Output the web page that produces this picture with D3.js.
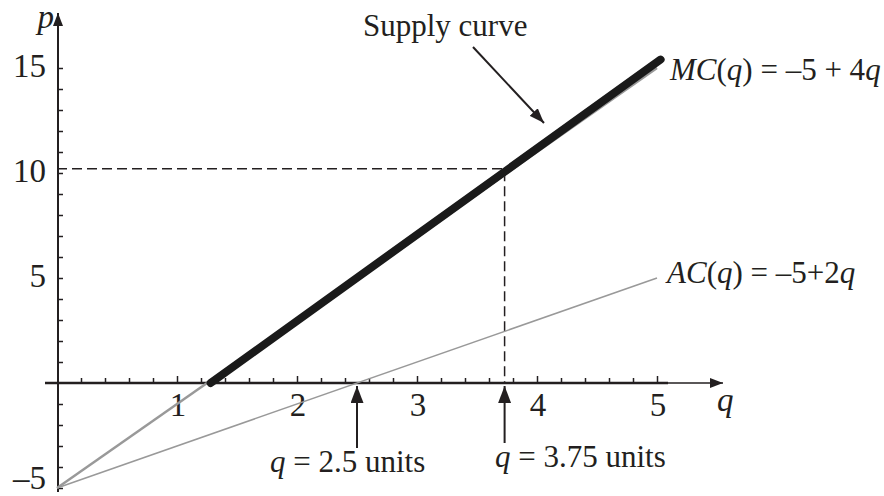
<!DOCTYPE html>
<html lang="en">
<head>
<meta charset="UTF-8">
<title>Supply curve</title>
<script src="https://d3js.org/d3.v7.min.js"></script>
<style>
  body { margin: 0; background: #fff; }
  text { font-family: "Liberation Serif", "Times New Roman", serif; fill: #231f20; }
</style>
</head>
<body>
<div id="chart"></div>
<script>
// values
var qTicks = [1, 2, 3, 4, 5];
var pTicks = [-5, 5, 10, 15];
var mcQ = [0, 5], mcP = [-5, 15];          // MC(q) = -5 + 4q
var acQ = [0, 5], acP = [-5, 5];           // AC(q) = -5 + 2q
var supplyQ = [1.28, 5.03], supplyP = [0, 15.4];   // bold supply curve, drawn slightly above MC
var qStar = 3.73, pStar = 10.2;            // dashed guide lines
var markers = [
  {q: 2.5,  y0: 448, y1: 386, label: "2.5 units",  lx: 270, ly: 472},
  {q: 3.73, y0: 443, y1: 386, label: "3.75 units", lx: 495, ly: 467}
];

var width = 884, height = 496;
var ink = "#231f20";

var svg = d3.select("#chart").append("svg")
    .attr("width", width)
    .attr("height", height);

var x = d3.scaleLinear().domain([0, 5]).range([57, 657]);
var y = d3.scaleLinear().domain([-5, 15]).range([488, 68]);

var defs = svg.append("defs");
function head(id, w, h) {
  defs.append("marker")
      .attr("id", id)
      .attr("viewBox", "0 0 " + w + " " + h)
      .attr("refX", w).attr("refY", h / 2)
      .attr("markerWidth", w).attr("markerHeight", h)
      .attr("markerUnits", "userSpaceOnUse")
      .attr("orient", "auto")
    .append("path")
      .attr("d", "M0,0L" + w + "," + (h / 2) + "L0," + h + "Z")
      .attr("fill", ink);
}
head("ax", 13, 10);
head("ann", 17, 13);
head("sup", 15, 11);

// axes lines
svg.append("line")
    .attr("x1", x(0) + 1).attr("x2", x(0) + 1)
    .attr("y1", 492).attr("y2", 13)
    .attr("stroke", ink).attr("stroke-width", 2)
    .attr("marker-end", "url(#ax)");
svg.append("line")
    .attr("x1", 45).attr("x2", 668)
    .attr("y1", y(0)).attr("y2", y(0))
    .attr("stroke", ink).attr("stroke-width", 2.5);
svg.append("line")
    .attr("x1", 668).attr("x2", 723)
    .attr("y1", y(0)).attr("y2", y(0))
    .attr("stroke", ink).attr("stroke-width", 1.3)
    .attr("marker-end", "url(#ax)");

// x ticks (pointing up)
var gx = svg.append("g").attr("transform", "translate(0," + y(0) + ")");
gx.append("g").call(d3.axisTop(x)
    .tickValues(x.ticks(25).filter(function(d){ return d > 0 && qTicks.indexOf(d) < 0; }))
    .tickSize(5).tickFormat(""));
gx.append("g").call(d3.axisTop(x).tickValues(qTicks).tickSize(7).tickFormat(""));
gx.selectAll(".domain").remove();
gx.selectAll(".tick line").attr("stroke", ink).attr("stroke-width", 1.5);

// y ticks (pointing right)
var gy = svg.append("g").attr("transform", "translate(" + (x(0) + 1) + ",0)");
gy.call(d3.axisRight(y)
    .tickValues(y.ticks(20).filter(function(d){ return d !== 0; }))
    .tickSize(5).tickFormat(""));
gy.selectAll(".domain").remove();
gy.selectAll(".tick line").attr("stroke", ink).attr("stroke-width", 1.5);

// tick labels
svg.selectAll(".qlab")
    .data(qTicks)
    .enter().append("text")
    .attr("x", function(d){ return x(d) + 1; })
    .attr("y", 416)
    .attr("text-anchor", "middle")
    .attr("font-size", "33px")
    .text(function(d){ return d; });

svg.selectAll(".plab")
    .data(pTicks)
    .enter().append("text")
    .attr("x", 46)
    .attr("y", function(d){ return Math.min(y(d) + 9, 489); })
    .attr("text-anchor", "end")
    .attr("font-size", "33px")
    .text(function(d){ return d < 0 ? "\u2013" + (-d) : d; });

// axis titles
svg.append("text").attr("x", 54).attr("y", 28).attr("text-anchor", "end")
    .attr("font-size", "33px").attr("font-style", "italic").text("p");
svg.append("text").attr("x", 717).attr("y", 411)
    .attr("font-size", "33px").attr("font-style", "italic").text("q");

var line = d3.line()
    .x(function(d){ return x(d[0]); })
    .y(function(d){ return y(d[1]); });

// dashed guides
svg.append("path")
    .attr("d", line([[0, pStar], [qStar, pStar], [qStar, 0]]))
    .attr("fill", "none")
    .attr("stroke", ink).attr("stroke-width", 1.5)
    .attr("stroke-dasharray", "10,5");

// cost curves
svg.append("path")
    .attr("d", line(d3.zip(acQ, acP)))
    .attr("fill", "none").attr("stroke", "#999").attr("stroke-width", 1.5);
svg.append("path")
    .attr("d", line(d3.zip(mcQ, mcP)))
    .attr("fill", "none").attr("stroke", "#999").attr("stroke-width", 2.5);

// supply curve
svg.append("path")
    .attr("d", line(d3.zip(supplyQ, supplyP)))
    .attr("fill", "none").attr("stroke", "#1a1a1a")
    .attr("stroke-width", 8).attr("stroke-linecap", "round");

// labels on curves
var mcLab = svg.append("text").attr("x", 670).attr("y", 80).attr("font-size", "31px");
mcLab.append("tspan").attr("font-style", "italic").text("MC");
mcLab.append("tspan").text("(");
mcLab.append("tspan").attr("font-style", "italic").text("q");
mcLab.append("tspan").text(") = \u20135 + 4");
mcLab.append("tspan").attr("font-style", "italic").text("q");

var acLab = svg.append("text").attr("x", 667).attr("y", 283).attr("font-size", "31px");
acLab.append("tspan").attr("font-style", "italic").text("AC");
acLab.append("tspan").text("(");
acLab.append("tspan").attr("font-style", "italic").text("q");
acLab.append("tspan").text(") = \u20135+2");
acLab.append("tspan").attr("font-style", "italic").text("q");

// supply curve annotation
svg.append("text").attr("x", 363).attr("y", 36).attr("font-size", "31px").text("Supply curve");
svg.append("line")
    .attr("x1", 473).attr("y1", 47).attr("x2", 544).attr("y2", 123)
    .attr("stroke", ink).attr("stroke-width", 2)
    .attr("marker-end", "url(#sup)");

// q markers below the axis
markers.forEach(function(m) {
  svg.append("line")
      .attr("x1", x(m.q)).attr("x2", x(m.q))
      .attr("y1", m.y0).attr("y2", m.y1)
      .attr("stroke", ink).attr("stroke-width", 2)
      .attr("marker-end", "url(#ann)");
  var t = svg.append("text").attr("x", m.lx).attr("y", m.ly).attr("font-size", "31px");
  t.append("tspan").attr("font-style", "italic").text("q");
  t.append("tspan").text(" = " + m.label);
});
</script>
</body>
</html>
